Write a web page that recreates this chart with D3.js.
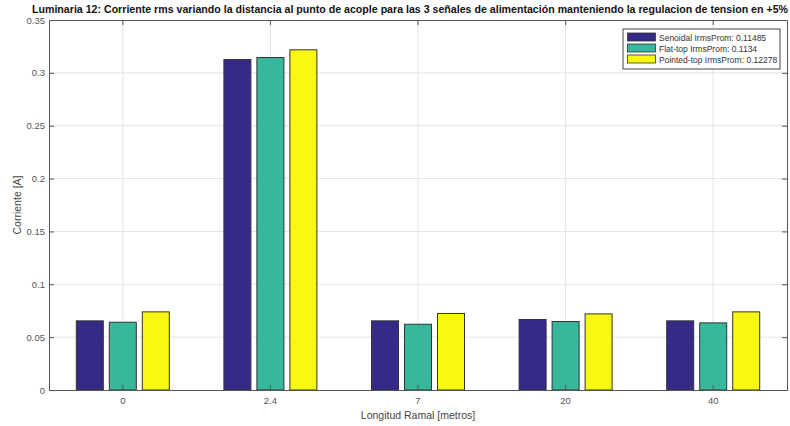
<!DOCTYPE html>
<html><head><meta charset="utf-8">
<script src="https://cdn.jsdelivr.net/npm/d3@7"></script>
<style>body{margin:0;background:#fff}svg{display:block}text{font-family:"Liberation Sans",Arial,sans-serif}</style>
</head><body><svg id="c" width="790" height="426"></svg>
<script>
const categories = ["0", "2.4", "7", "20", "40"];
const seriesNames = ["Senoidal IrmsProm: 0.11485", "Flat-top IrmsProm: 0.1134", "Pointed-top IrmsProm: 0.12278"];
const senoidal = [0.0654, 0.3126, 0.0654, 0.0667, 0.0654];
const flatTop = [0.0641, 0.3145, 0.0622, 0.0648, 0.0635];
const pointedTop = [0.0739, 0.3218, 0.0724, 0.0720, 0.0739];
const yTicks = [0, 0.05, 0.1, 0.15, 0.2, 0.25, 0.3, 0.35];
const colors = ["#352a87", "#37b89c", "#f8f812"];
const seriesValues = [senoidal, flatTop, pointedTop];

const svg = d3.select("#c");
const L = 49, R = 787, T = 20, B = 390;
const x = d3.scaleBand().domain(categories).range([L, R]).paddingInner(0).paddingOuter(0);
const y = d3.scaleLinear().domain([0, 0.35]).range([B, T]);
const barW = 27, barStep = 33;

// grid
svg.append("g").selectAll("line").data(yTicks.slice(1, -1)).join("line")
  .attr("x1", L).attr("x2", R).attr("y1", d => y(d)).attr("y2", d => y(d))
  .attr("stroke", "#e3e3e3").attr("stroke-width", 1);
svg.append("g").selectAll("line").data(categories).join("line")
  .attr("x1", d => x(d) + x.bandwidth() / 2).attr("x2", d => x(d) + x.bandwidth() / 2)
  .attr("y1", T).attr("y2", B).attr("stroke", "#e3e3e3").attr("stroke-width", 1);

// bars
seriesValues.forEach((vals, si) => {
  svg.append("g").selectAll("rect").data(vals).join("rect")
    .attr("x", (d, i) => x(categories[i]) + x.bandwidth() / 2 + (si - 1) * barStep - barW / 2)
    .attr("width", barW)
    .attr("y", d => y(d)).attr("height", d => B - y(d))
    .attr("fill", colors[si]).attr("stroke", "#333").attr("stroke-width", 1);
});

// axes
const axisColor = "#555";
const yAxis = svg.append("g").attr("transform", `translate(${L},0)`)
  .call(d3.axisLeft(y).tickValues(yTicks).tickFormat(d => d3.format("")(+d.toFixed(2))).tickSizeInner(-5).tickSizeOuter(0).tickPadding(4));
const xAxis = svg.append("g").attr("transform", `translate(0,${B})`)
  .call(d3.axisBottom(x).tickSizeInner(-5).tickSizeOuter(0).tickPadding(7));
const yAxisR = svg.append("g").attr("transform", `translate(${R},0)`)
  .call(d3.axisRight(y).tickValues(yTicks).tickFormat("").tickSizeInner(-5).tickSizeOuter(0));
const xAxisT = svg.append("g").attr("transform", `translate(0,${T})`)
  .call(d3.axisTop(x).tickFormat("").tickSizeInner(-5).tickSizeOuter(0));
[yAxis, xAxis, yAxisR, xAxisT].forEach(g => {
  g.selectAll("path,line").attr("stroke", axisColor);
  g.selectAll("text").attr("fill", "#555").attr("font-size", "9.5px").attr("font-family", "Liberation Sans, Arial, sans-serif");
});

// title
svg.append("text").attr("x", 410).attr("y", 13).attr("text-anchor", "middle")
  .attr("font-size", "10.5px").attr("font-weight", "bold").attr("fill", "#111")
  .attr("textLength", 756).attr("lengthAdjust", "spacingAndGlyphs")
  .text("Luminaria 12: Corriente rms variando la distancia al punto de acople para las 3 señales de alimentación manteniendo la regulacion de tension en +5%");

// axis labels
svg.append("text").attr("x", 418).attr("y", 419).attr("text-anchor", "middle")
  .attr("font-size", "10.5px").attr("fill", "#444").text("Longitud Ramal [metros]");
svg.append("text").attr("transform", `translate(21,${(T + B) / 2}) rotate(-90)`).attr("text-anchor", "middle")
  .attr("font-size", "10.5px").attr("fill", "#444").text("Corriente [A]");

// legend
const lg = svg.append("g");
lg.append("rect").attr("x", 623).attr("y", 29).attr("width", 157).attr("height", 40)
  .attr("fill", "#fff").attr("stroke", "#444").attr("stroke-width", 1);
seriesNames.forEach((n, i) => {
  const yy = 33 + i * 11;
  lg.append("rect").attr("x", 627.5).attr("y", yy).attr("width", 28).attr("height", 8)
    .attr("fill", colors[i]).attr("stroke", "#333").attr("stroke-width", 0.8);
  lg.append("text").attr("x", 659).attr("y", yy + 7.5).attr("font-size", "8.5px").attr("fill", "#333").text(n);
});
</script></body></html>
